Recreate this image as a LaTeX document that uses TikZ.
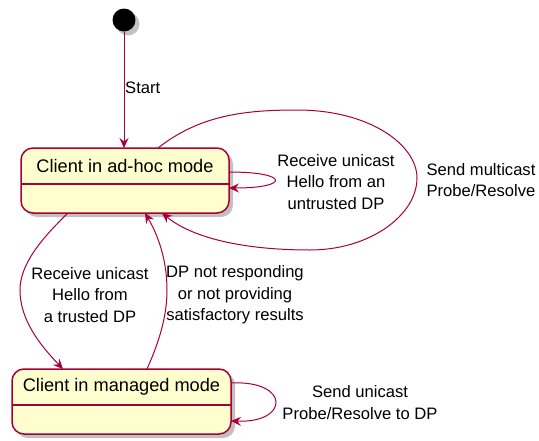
\documentclass[tikz,border=0pt]{standalone}
\usepackage{fontspec}
\setmainfont{Liberation Sans}
\usetikzlibrary{arrows.meta,shadows}
\definecolor{umlred}{HTML}{A80036}
\definecolor{umlfill}{HTML}{FEFECE}
\begin{document}
\begin{tikzpicture}[x=1pt,y=-1pt,
  umlshadow/.style={drop shadow={shadow xshift=4pt,shadow yshift=-4pt,opacity=0.35,fill=black!70}},
  state/.style={draw=umlred,line width=1.5pt,fill=umlfill,rounded corners=12pt,
    inner sep=0pt,outer sep=0pt,umlshadow},
  statetitle/.style={inner sep=0pt,font=\fontsize{18.2}{22}\selectfont},
  sep/.style={draw=umlred,line width=1.5pt},
  edge/.style={draw=umlred,line width=1pt,
    -{Stealth[length=10pt,width=9pt,inset=3.5pt]}},
  lbl/.style={inner sep=0pt,align=center,font=\fontsize{16.6}{21.5}\selectfont},
]
\useasboundingbox (0,0) rectangle (539,440);

% initial pseudo-state
\node[circle,fill=black,minimum size=23pt,inner sep=0pt,umlshadow] (start) at (124,20) {};

% states
\node[state,minimum width=208pt,minimum height=65pt] (s1) at (125,180.5) {};
\node[statetitle] (t1) at ([yshift=-18pt]s1.north) {Client in ad-hoc mode};
\draw[sep] ([yshift=-36pt]s1.north west) -- ([yshift=-36pt]s1.north east);

\node[state,minimum width=219pt,minimum height=65pt] (s2) at (121.5,401.5) {};
\node[statetitle] (t2) at ([yshift=-18pt]s2.north) {Client in managed mode};
\draw[sep] ([yshift=-36pt]s2.north west) -- ([yshift=-36pt]s2.north east);

% transitions
\draw[edge] (start) -- (start |- s1.north);
\node[lbl,anchor=west] (lstart) at (125,88) {Start};

\draw[edge] ([yshift=8.5pt]s1.east) .. controls (290,172) and (290,188) .. ([yshift=-7.5pt]s1.east);
\node[lbl] (l1) at (336,182) {Receive unicast\\Hello from an\\ untrusted DP};

\draw[edge] ([xshift=33pt]s1.north)
  .. controls (200,115) and (245,110) .. (297,110)
  .. controls (370,110) and (417,145) .. (417,178)
  .. controls (417,215) and (370,250) .. (310,250)
  .. controls (250,250) and (195,240) .. ([xshift=37pt]s1.south);
\node[lbl] (l2) at (481,180) {Send multicast\\Probe/Resolve};

\draw[edge] ([xshift=-57pt]s1.south)
  .. controls (40,240) and (20,265) .. (20,290)
  .. controls (20,320) and (40,345) .. ([xshift=-58.5pt]s2.north);
\node[lbl] (l3) at (90,295) {Receive unicast\\Hello from\\a trusted DP};

\draw[edge] ([xshift=25.5pt]s2.north)
  .. controls (160,340) and (167,315) .. (167,290)
  .. controls (167,260) and (158,235) .. ([xshift=20pt]s1.south);
\node[lbl] (l4) at (235,295) {DP not responding\\or not providing\\satisfactory results};

\draw[edge] ([yshift=18.5pt]s2.east) .. controls (290,380) and (290,423) .. ([yshift=-19.5pt]s2.east);
\node[lbl] (l5) at (360,402.5) {Send unicast\\Probe/Resolve to DP};
\end{tikzpicture}
\end{document}
